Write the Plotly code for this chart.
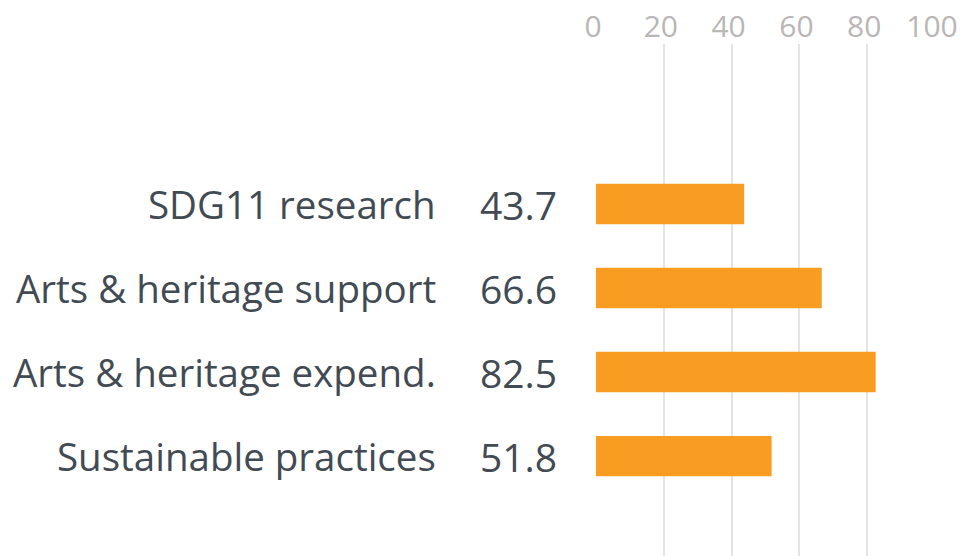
import plotly.graph_objects as go

categories = ["SDG11 research", "Arts & heritage support", "Arts & heritage expend.", "Sustainable practices"]
values = [43.7, 66.6, 82.5, 51.8]
tick_vals = [0, 20, 40, 60, 80, 100]
tick_text = ["0", "20", "40", "60", "80", "100"]

BAR = "#F99C22"
TXT = "#424a53"
FONT = "Open Sans"

fig = go.Figure(go.Bar(
    x=values, y=categories, orientation="h",
    marker=dict(color=BAR, line=dict(width=0)),
    width=0.48, hoverinfo="skip",
))

annotations = []
for c, v in zip(categories, values):
    annotations.append(dict(x=-0.466, y=c, xref="paper", yref="y", text=c,
                            showarrow=False, xanchor="right", yanchor="middle",
                            font=dict(family=FONT, size=38.5, color=TXT)))
    annotations.append(dict(x=-0.348, y=c, xref="paper", yref="y", text=f"{v:.1f}",
                            showarrow=False, xanchor="left", yanchor="middle",
                            font=dict(family=FONT, size=39, color=TXT)))

fig.update_layout(
    width=964, height=556,
    margin=dict(l=596, r=29, t=44, b=0, autoexpand=False),
    paper_bgcolor="white", plot_bgcolor="white",
    showlegend=False,
    annotations=annotations,
    xaxis=dict(side="top", range=[0, 100], tickvals=tick_vals, ticktext=tick_text,
               showgrid=True, gridcolor="#e4e4e4", gridwidth=2, automargin=False,
               zeroline=False, showline=False, ticks="", ticklabelshift=-3,
               tickfont=dict(family=FONT, size=30, color="#b9b6b6"), fixedrange=True),
    yaxis=dict(range=[4.19, -1.905], showticklabels=False, showgrid=False, automargin=False,
               zeroline=False, showline=False, ticks="", fixedrange=True),
)

fig.write_html("out.html", config={"displayModeBar": False},
               post_script="document.body.style.margin='0';")
